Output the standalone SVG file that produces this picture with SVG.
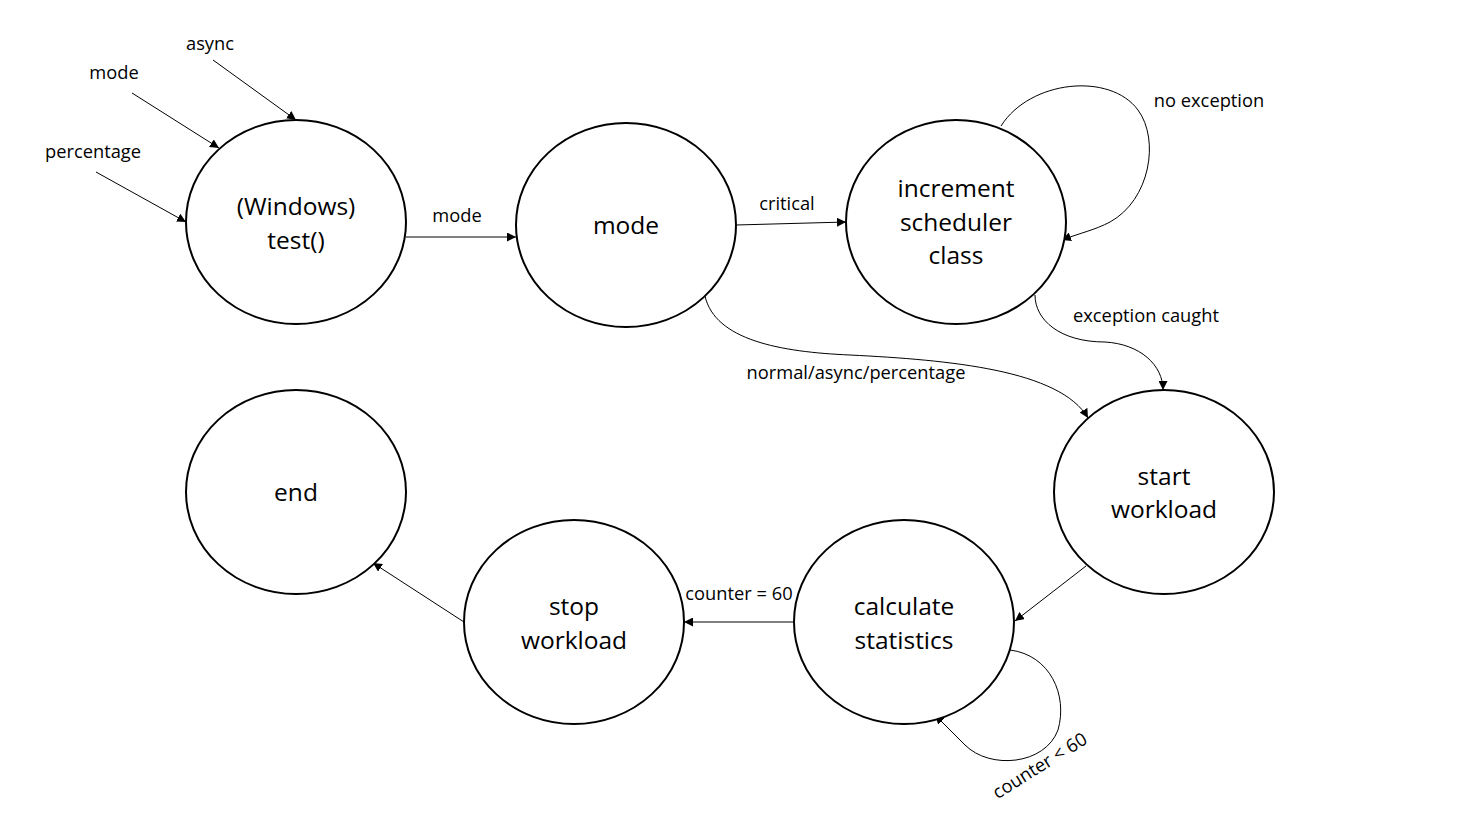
<svg xmlns="http://www.w3.org/2000/svg" width="1469" height="819" viewBox="0 0 1469 819">
<style>
.node ellipse{fill:#fff;stroke:#000;stroke-width:2}
.nt{font-family:"Open Sans","Liberation Sans",sans-serif;font-size:24.5px;fill:#000;text-anchor:middle}
.lb{font-family:"Open Sans","Liberation Sans",sans-serif;font-size:18.3px;fill:#000;text-anchor:middle}
.c{fill:none;stroke:#000;stroke-width:1}
</style>
<defs>
<marker id="ah" viewBox="0 0 10 10" refX="10" refY="5" markerWidth="9" markerHeight="9" markerUnits="userSpaceOnUse" orient="auto">
<path d="M0,0 L10,5 L0,10 z" fill="#000"/>
</marker>
</defs>
<rect width="1469" height="819" fill="#fff"/>
<g id="connectors">
<path class="c" d="M213,60 L296,120" marker-end="url(#ah)"/>
<path class="c" d="M132,93 L219,148" marker-end="url(#ah)"/>
<path class="c" d="M96,172 L186,222" marker-end="url(#ah)"/>
<path class="c" d="M406,237 L516,237" marker-end="url(#ah)"/>
<path class="c" d="M736,225 L846,222" marker-end="url(#ah)"/>
<path class="c" d="M1001,126 C1030,80 1110,72 1138,110 C1160,140 1150,200 1110,222 C1095,230 1080,233 1062,240" marker-end="url(#ah)"/>
<path class="c" d="M1035,295 C1035,320 1060,342 1105,342 C1140,344 1163,365 1163,390" marker-end="url(#ah)"/>
<path class="c" d="M705,296 C715,340 780,352 850,355 C950,360 1060,370 1088,418" marker-end="url(#ah)"/>
<path class="c" d="M1086,566 L1015,621" marker-end="url(#ah)"/>
<path class="c" d="M794,622 L684,622" marker-end="url(#ah)"/>
<path class="c" d="M464,622 L373,563" marker-end="url(#ah)"/>
<path class="c" d="M1010,650 C1050,655 1068,695 1058,730 C1045,765 990,770 965,745 C955,735 945,725 935,715" marker-end="url(#ah)"/>
<text class="lb" x="210" y="50">async</text>
<text class="lb" x="114" y="79">mode</text>
<text class="lb" x="93" y="158">percentage</text>
<text class="lb" x="457" y="222">mode</text>
<text class="lb" x="787" y="210">critical</text>
<text class="lb" x="1209" y="107">no exception</text>
<text class="lb" x="1146" y="322">exception caught</text>
<text class="lb" x="856" y="379">normal/async/percentage</text>
<text class="lb" x="739" y="600">counter = 60</text>
<text class="lb" transform="translate(1043,771) rotate(-32)">counter &lt; 60</text>
</g>
<g id="n-test" class="node"><ellipse cx="296" cy="222" rx="110" ry="102"/><text class="nt" x="296" y="215">(Windows)</text><text class="nt" x="296" y="249">test()</text></g>
<g id="n-mode" class="node"><ellipse cx="626" cy="225" rx="110" ry="102"/><text class="nt" x="626" y="234">mode</text></g>
<g id="n-increment" class="node"><ellipse cx="956" cy="222" rx="110" ry="102"/><text class="nt" x="956" y="197">increment</text><text class="nt" x="956" y="231">scheduler</text><text class="nt" x="956" y="264">class</text></g>
<g id="n-start" class="node"><ellipse cx="1164" cy="492" rx="110" ry="102"/><text class="nt" x="1164" y="485">start</text><text class="nt" x="1164" y="518">workload</text></g>
<g id="n-calc" class="node"><ellipse cx="904" cy="622" rx="110" ry="102"/><text class="nt" x="904" y="615">calculate</text><text class="nt" x="904" y="649">statistics</text></g>
<g id="n-stop" class="node"><ellipse cx="574" cy="622" rx="110" ry="102"/><text class="nt" x="574" y="615">stop</text><text class="nt" x="574" y="649">workload</text></g>
<g id="n-end" class="node"><ellipse cx="296" cy="492" rx="110" ry="102"/><text class="nt" x="296" y="501">end</text></g>
</svg>
